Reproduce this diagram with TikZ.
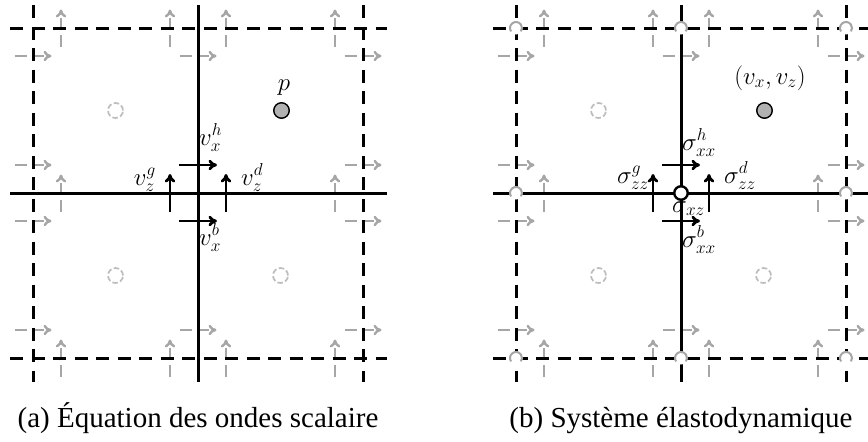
\documentclass[tikz,border=0pt]{standalone}
\usepackage[no-math]{fontspec}
\setmainfont{Liberation Serif}
\usetikzlibrary{arrows.meta}
\tikzset{
  lin/.style={line width=3pt, black},
  dsh/.style={lin, dash pattern=on 13.3pt off 8.2pt},
  garr/.style={line width=2.4pt, black!35, dash pattern=on 12pt off 5pt, -{To[length=8pt,width=10.5pt]}},
  barr/.style={line width=2.8pt, black, -{To[length=8.5pt,width=10.5pt]}},
  ccirc/.style={circle, draw=black!26, line width=1.7pt, dash pattern=on 5.5pt off 2.5pt, minimum size=15pt, inner sep=0pt},
  pcirc/.style={circle, draw=black, fill=black!30, line width=1.4pt, minimum size=15.5pt, inner sep=0pt},
  wcirc/.style={circle, draw=black, fill=white, line width=2.4pt, minimum size=13.5pt, inner sep=0pt},
  lab/.style={inner sep=0pt, font=\fontsize{24}{28}\selectfont},
  captxt/.style={inner sep=0pt, font=\fontsize{29}{34}\selectfont, anchor=base},
}
\begin{document}
\begin{tikzpicture}[x=1pt, y=-1pt]
\path[use as bounding box] (0,0) rectangle (868,442);
% grid points
\foreach \px/\pn in {0/L, 483/R}{
  \foreach \i/\x in {0/33, 1/198, 2/363}{
    \foreach \j/\y in {0/28, 1/193, 2/358}{
      \coordinate (\pn-\i-\j) at (\x+\px, \y);
    }
  }
}
% gray arrows
\foreach \pn in {L,R}{
 \foreach \i/\dxs in {0/{28},1/{-28,28},2/{-28}}{
  \foreach \j/\dys in {0/{28},1/{-28,28},2/{-28}}{
   \ifnum\i\j=11\relax\else
     \foreach \dy in \dys {\draw[garr] ([shift={(-18.5,\dy)}]\pn-\i-\j) -- ([shift={(18.5,\dy)}]\pn-\i-\j);}
     \foreach \dx in \dxs {\draw[garr] ([shift={(\dx,18.5)}]\pn-\i-\j) -- ([shift={(\dx,-18.5)}]\pn-\i-\j);}
   \fi
  }}}
% cell centres
\node[ccirc] (L-c00) at (115.5,110.5) {};
\node[ccirc] (L-c01) at (115.5,275.5) {};
\node[ccirc] (L-c11) at (280.5,275.5) {};
\node[pcirc] (L-p) at (281.5,110.5) {};
\node[ccirc] (R-c00) at (598.5,110.5) {};
\node[ccirc] (R-c01) at (598.5,275.5) {};
\node[ccirc] (R-c11) at (763.5,275.5) {};
\node[pcirc] (R-p) at (764.5,110.5) {};
% black lines, left panel
\draw[dsh] ([shift={(0,-23)}]L-0-0) -- ([shift={(0,24)}]L-0-2);
\draw[lin] ([shift={(0,-23)}]L-1-0) -- ([shift={(0,24)}]L-1-2);
\draw[dsh] ([shift={(0,-23)}]L-2-0) -- ([shift={(0,24)}]L-2-2);
\draw[dsh] ([shift={(-23,0)}]L-0-0) -- ([shift={(24,0)}]L-2-0);
\draw[lin] ([shift={(-23,0)}]L-0-1) -- ([shift={(24,0)}]L-2-1);
\draw[dsh] ([shift={(-23,0)}]L-0-2) -- ([shift={(24,0)}]L-2-2);
% black lines, right panel
\draw[dsh] ([shift={(0,-23)}]R-0-0) -- ([shift={(0,24)}]R-0-2);
\draw[lin] ([shift={(0,-23)}]R-1-0) -- ([shift={(0,24)}]R-1-2);
\draw[dsh] ([shift={(0,-23)}]R-2-0) -- ([shift={(0,24)}]R-2-2);
\draw[dsh] ([shift={(-23,0)}]R-0-0) -- ([shift={(26,0)}]R-2-0);
\draw[lin] ([shift={(-23,0)}]R-0-1) -- ([shift={(26,0)}]R-2-1);
\draw[dsh] ([shift={(-23,0)}]R-0-2) -- ([shift={(26,0)}]R-2-2);
% node half circles, right panel
\foreach \i/\j in {0/0,1/0,2/0,0/1,2/1,0/2,1/2,2/2}{
  \fill[white] (R-\i-\j) circle[radius=6.5pt];
  \draw[black!35, line width=2pt] ([shift={(215:6pt)}]R-\i-\j) arc[start angle=215, end angle=-35, radius=6pt];
}
% black arrows, left
\draw[barr] ([shift={(-19,-28)}]L-1-1) -- ([shift={(19,-28)}]L-1-1);
\draw[barr] ([shift={(-19,28)}]L-1-1) -- ([shift={(19,28)}]L-1-1);
\draw[barr] ([shift={(-28,19)}]L-1-1) -- ([shift={(-28,-19)}]L-1-1);
\draw[barr] ([shift={(28,19)}]L-1-1) -- ([shift={(28,-19)}]L-1-1);
% black arrows, right
\draw[barr] ([shift={(-19,-28)}]R-1-1) -- ([shift={(19,-28)}]R-1-1);
\draw[barr] ([shift={(-19,28)}]R-1-1) -- ([shift={(19,28)}]R-1-1);
\draw[barr] ([shift={(-28,19)}]R-1-1) -- ([shift={(-28,-19)}]R-1-1);
\draw[barr] ([shift={(28,19)}]R-1-1) -- ([shift={(28,-19)}]R-1-1);
\node[wcirc] (R-w) at (R-1-1) {};
% labels, left
\node[lab, anchor=base] (lp) at (284,90) {$p$};
\node[lab, anchor=base west] (lvxh) at (199,145) {$v_x^h$};
\node[lab, anchor=base west] (lvxb) at (199,245) {$v_x^b$};
\node[lab, anchor=base east] (lvzg) at (156,185) {$v_z^g$};
\node[lab, anchor=base west] (lvzd) at (241,185) {$v_z^d$};
% labels, right
\node[lab, anchor=base] (rvv) at (770,84) {$(v_x,v_z)$};
\node[lab, anchor=base west] (rsh) at (682,150) {$\sigma_{xx}^h$};
\node[lab, anchor=base west] (rsb) at (682,247) {$\sigma_{xx}^b$};
\node[lab, anchor=base east] (rsg) at (649,183) {$\sigma_{zz}^g$};
\node[lab, anchor=base west] (rsd) at (724,183) {$\sigma_{zz}^d$};
\node[lab, anchor=base west] (rsxz) at (672,212) {$\sigma_{xz}$};
% captions
\node[captxt] (capA) at (198,427) {(a) Équation des ondes scalaire};
\node[captxt] (capB) at (681,427) {(b) Système élastodynamique};
\end{tikzpicture}
\end{document}
